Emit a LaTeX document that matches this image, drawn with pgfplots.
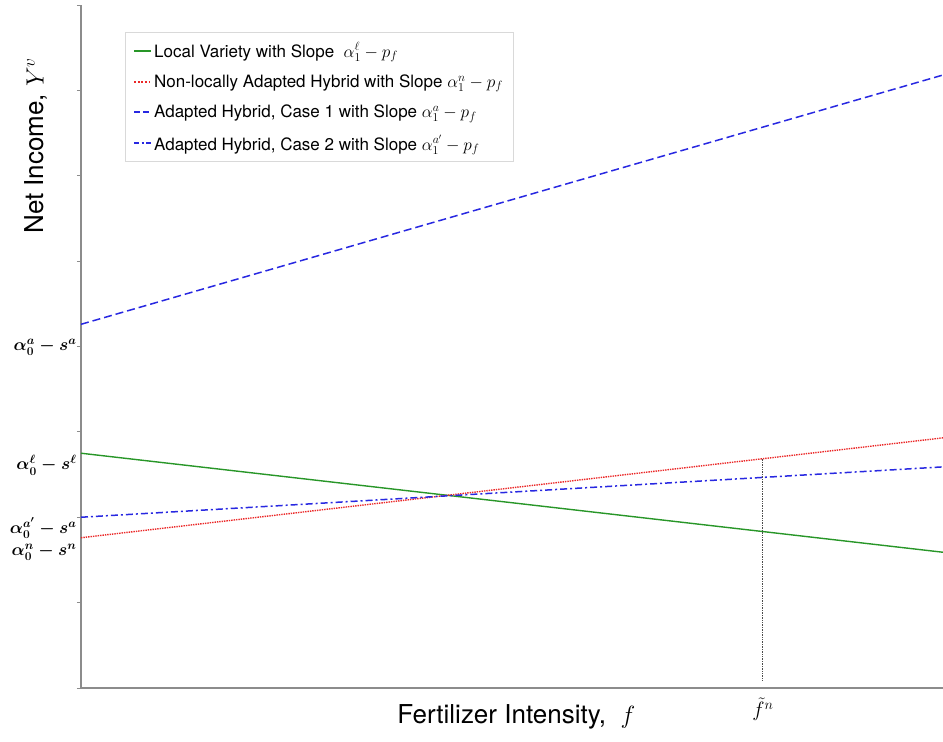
\documentclass[border=0pt]{standalone}
\usepackage[no-math]{fontspec}
\setmainfont{TeX Gyre Heros}
\usepackage{pgfplots}
\pgfplotsset{compat=1.18}
\definecolor{localgreen}{RGB}{40,150,40}
\definecolor{hyred}{RGB}{235,40,40}
\definecolor{hyblue}{RGB}{40,40,225}
\definecolor{axgray}{RGB}{140,140,140}

\begin{document}
\begin{tikzpicture}
% page = 943 x 742 px, 1px = 1pt; plot area starts at (81,688) px
\useasboundingbox (-81pt,-54pt) rectangle (862pt,688pt);
\begin{axis}[
  at={(0pt,0pt)}, anchor=south west,
  scale only axis,
  width=862pt, height=683pt,
  xmin=0, xmax=10, ymin=0, ymax=8,
  axis x line=bottom, axis y line=left,
  axis line style={-, axgray, line width=1.3pt},
  xtick=\empty,
  ytick={0,1,...,8}, yticklabels={},
  tick align=outside,
  major tick length=4pt,
  tick style={axgray, line width=0.8pt},
  extra x ticks={7.91},
  extra x tick labels={$\tilde{f}^{n}$},
  extra x tick style={major tick length=0pt,
    tick label style={font=\fontsize{20}{24}\selectfont, yshift=-6pt}},
  extra y ticks={3.99,2.61,1.87,1.59},
  extra y tick labels={$\alpha_0^{a}-s^{a}$,$\alpha_0^{\ell}-s^{\ell}$,$\alpha_0^{a'}-s^{a}$,$\alpha_0^{n}-s^{n}$},
  extra y tick style={major tick length=0pt,
    tick label style={font=\fontsize{18.5}{22}\selectfont\boldmath, xshift=-1pt}},
  xlabel={Fertilizer Intensity, \ $f$},
  ylabel={Net Income, $Y^{v}$},
  xlabel style={font=\fontsize{26}{30}\selectfont,
    at={(axis description cs:0.505,-0.042)}, anchor=center},
  ylabel style={font=\fontsize{26}{30}\selectfont,
    at={(axis description cs:-0.052,0.794)}, anchor=center, rotate=0},
  legend style={at={(axis description cs:0.051,0.96)}, anchor=north west,
    draw=gray!30, font=\fontsize{17}{20}\selectfont,
    inner xsep=8pt, inner ysep=8pt, row sep=12pt},
  legend cell align=left,
  legend image code/.code={\draw[#1, line width=2pt] (0pt,0pt) -- (17pt,0pt);},
]
\addlegendimage{localgreen}
\addlegendentry{Local Variety with Slope \ $\alpha_1^{\ell}-p_f$}
\addlegendimage{hyred, dash pattern=on 1.8pt off 1.8pt}
\addlegendentry{Non-locally Adapted Hybrid with Slope $\alpha_1^{n}-p_f$}
\addlegendimage{hyblue, dash pattern=on 6pt off 3pt}
\addlegendentry{Adapted Hybrid, Case 1 with Slope $\alpha_1^{a}-p_f$}
\addlegendimage{hyblue, dash pattern=on 5pt off 2.5pt on 2pt off 2.5pt}
\addlegendentry{Adapted Hybrid, Case 2 with Slope $\alpha_1^{a'}-p_f$}
\addplot[localgreen, line width=1.4pt, forget plot] coordinates {(0,2.75) (10,1.59)};
\addplot[hyred, line width=1.4pt, densely dotted, forget plot] coordinates {(0,1.76) (10,2.93)};
\addplot[hyblue, line width=1.5pt, dash pattern=on 8pt off 4pt, forget plot] coordinates {(0,4.26) (10,7.18)};
\addplot[hyblue, line width=1.5pt, dash pattern=on 7pt off 3pt on 2pt off 3pt, forget plot] coordinates {(0,2.0) (10,2.59)};
\addplot[black!70, line width=0.7pt, densely dotted, forget plot] coordinates {(7.91,0.09) (7.91,2.685)};
\end{axis}
\end{tikzpicture}
\end{document}
